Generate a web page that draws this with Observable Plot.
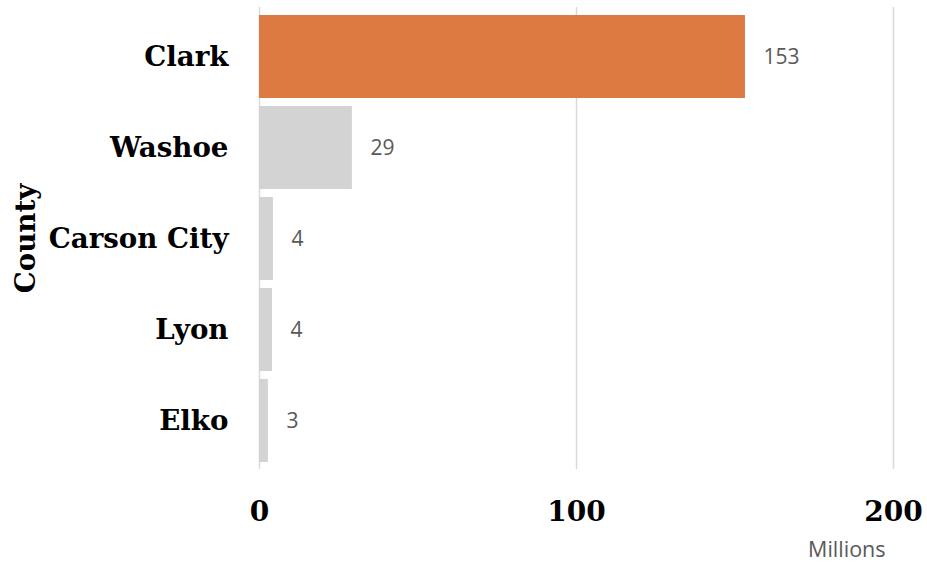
<!DOCTYPE html>
<html>
<head>
<meta charset="utf-8">
<script src="https://cdn.jsdelivr.net/npm/d3@7"></script>
<script src="https://cdn.jsdelivr.net/npm/@observablehq/plot@0.6"></script>
<style>
  html, body { margin: 0; padding: 0; background: #fff; }
  #chart svg { display: block; }
</style>
</head>
<body>
<div id="chart"></div>
<script>
const counties = ["Clark", "Washoe", "Carson City", "Lyon", "Elko"];
const values = [153.3, 29.3, 4.4, 4.1, 2.8];
const labels = ["153", "29", "4", "4", "3"];
const highlight = ["Clark"];
const xTicks = [0, 100, 200];

const data = counties.map((c, i) => ({county: c, value: values[i], label: labels[i]}));

const serif = "'DejaVu Serif', serif";
const sans = "'Open Sans', sans-serif";

const chart = Plot.plot({
  width: 927,
  height: 565,
  marginLeft: 259,
  marginRight: 34,
  marginTop: 7,
  marginBottom: 96,
  style: {fontFamily: serif, background: "#fff", overflow: "visible"},
  x: {domain: [0, 200], ticks: xTicks},
  y: {domain: counties, paddingInner: 0.093, paddingOuter: 0.075},
  marks: [
    Plot.gridX(xTicks, {stroke: "#d9d9d9", strokeOpacity: 1, strokeWidth: 1.5}),
    Plot.barX(data, {
      y: "county", x: "value",
      fill: d => highlight.includes(d.county) ? "#dd7a42" : "#d3d3d3"
    }),
    Plot.text(data, {
      y: "county", x: "value", text: "label",
      dx: 18, textAnchor: "start",
      fill: "#595959", fontSize: 21, fontFamily: sans
    }),
    Plot.axisX(xTicks, {
      tickSize: 0, tickPadding: 32, fontSize: 28, fontWeight: "bold",
      fill: "#000", label: null
    }),
    Plot.axisY({
      tickSize: 0, tickPadding: 31, fontSize: 27.7, fontWeight: "bold",
      fill: "#000", label: "County", labelAnchor: "center", labelArrow: "none",
      labelOffset: 244
    }),
    Plot.text(["Millions"], {
      frameAnchor: "bottom-right", text: d => d,
      dx: -8, dy: 81, textAnchor: "end", lineAnchor: "middle",
      fill: "#595959", fontSize: 21.5, fontFamily: sans,
      letterSpacing: "2px"
    })
  ]
});

document.getElementById("chart").appendChild(chart);
</script>
</body>
</html>
